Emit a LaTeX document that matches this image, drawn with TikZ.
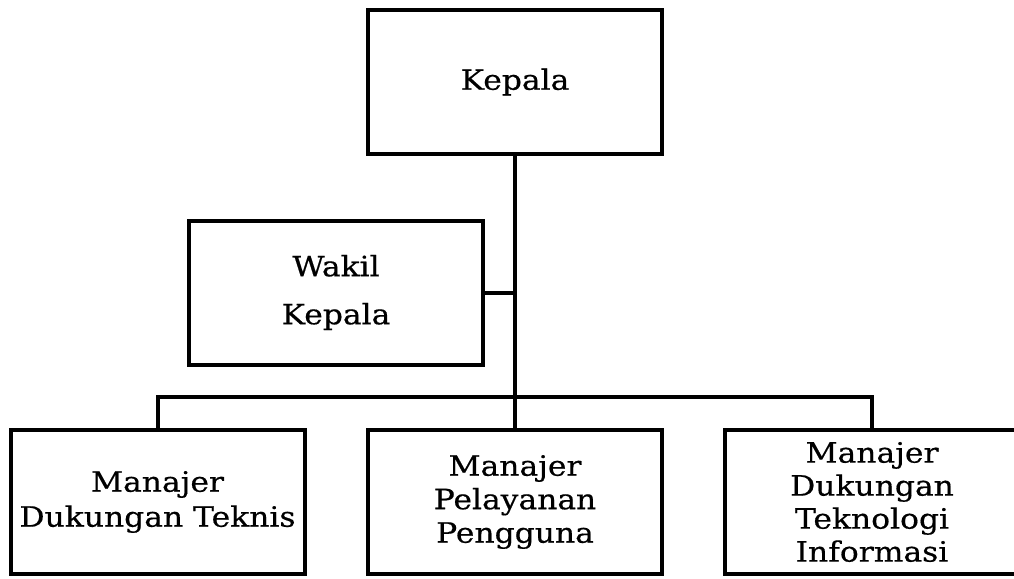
\documentclass[tikz,border=0pt]{standalone}
\usepackage{fontspec}
\setmainfont{DejaVu Serif}[FakeStretch=1.12,FakeBold=0.5]
\begin{document}
\begin{tikzpicture}[x=1pt,y=-1pt,
  box/.style={draw=black, line width=4pt, minimum width=294pt, minimum height=144pt, inner sep=0pt, align=center, font=\fontsize{28}{28}\selectfont},
  link/.style={draw=black, line width=4pt}]
\useasboundingbox (0,0) rectangle (1014,578);
\clip (0,0) rectangle (1014,578);
\fill[white] (0,0) rectangle (1014,578);
\node[box] (kepala) at (515,82) {Kepala};
\node[box, font=\fontsize{28}{48}\selectfont] (wakil) at (336,292.5) {Wakil\\Kepala};
\node[box, font=\fontsize{28}{35}\selectfont] (mdt) at (157.5,502) {Manajer\\Dukungan Teknis};
\node[box, font=\fontsize{28}{33.5}\selectfont] (mpp) at (515,502) {Manajer\\Pelayanan\\Pengguna};
\node[box, font=\fontsize{28}{33}\selectfont] (mdti) at (872,502) {Manajer\\Dukungan\\Teknologi\\Informasi};
\coordinate (j) at (kepala.south |- 0,397);
\coordinate (w) at (kepala.south |- wakil.east);
\draw[link] (kepala.south) -- (j);
\draw[link] (wakil.east) -- (w);
\draw[link] (mdt.north) -- (mdt.north |- j) -- (mdti.north |- j) -- (mdti.north);
\draw[link] (j) -- (mpp.north);
\end{tikzpicture}
\end{document}
